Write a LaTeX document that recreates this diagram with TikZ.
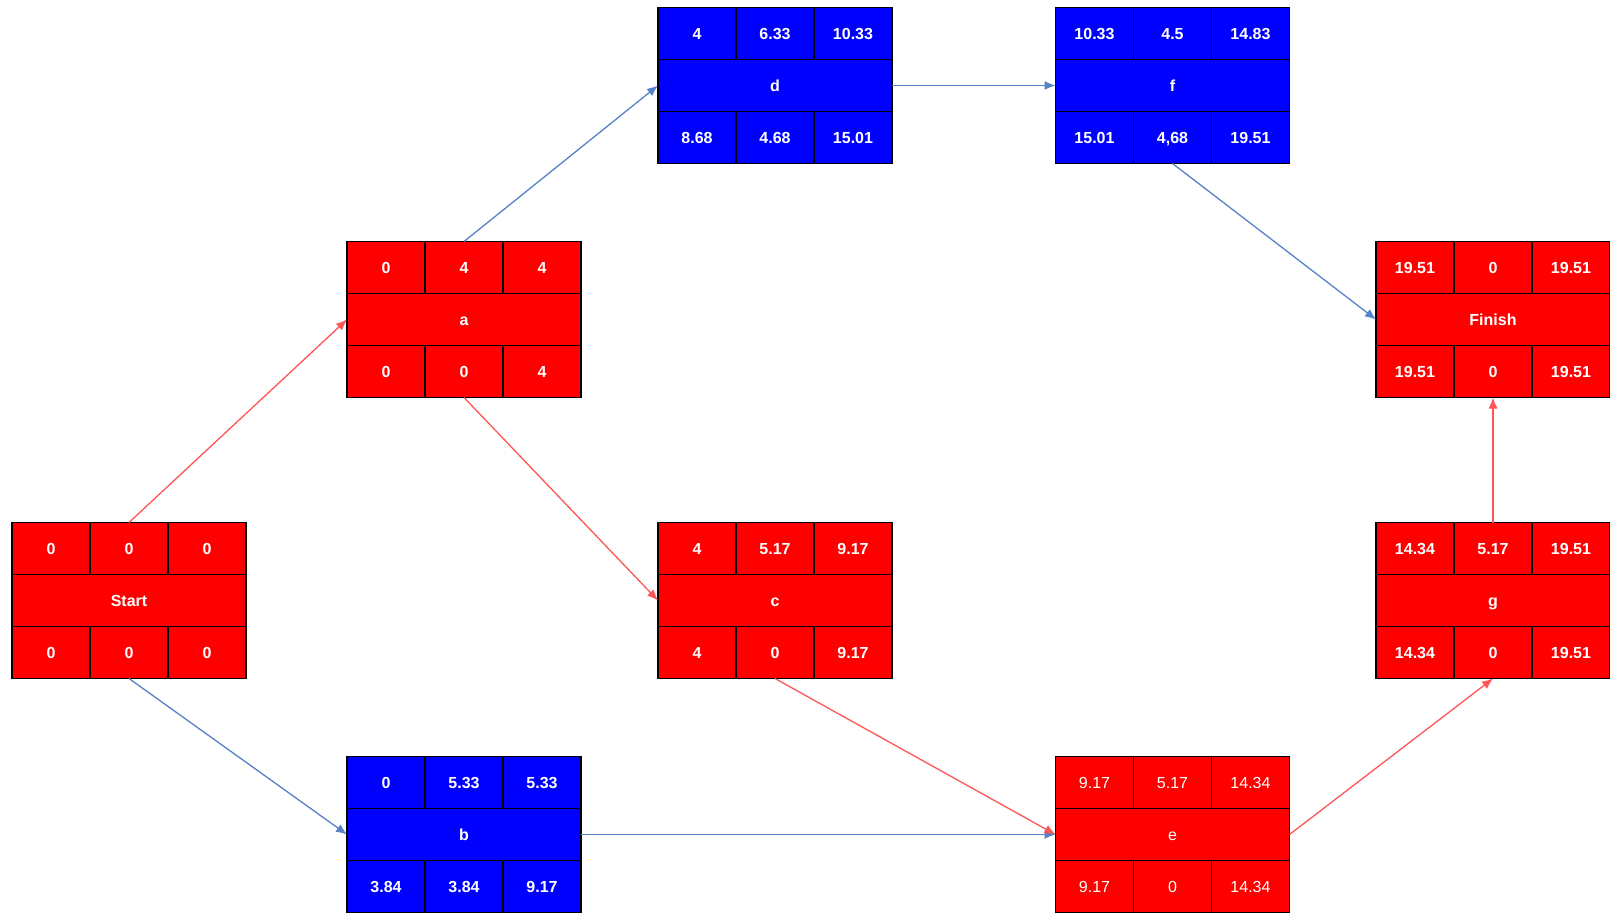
\documentclass[tikz,border=0pt]{standalone}
\usepackage{fontspec}
\setmainfont{Liberation Sans}
\usetikzlibrary{positioning,arrows.meta}

\definecolor{critred}{RGB}{255,0,0}
\definecolor{slackblue}{RGB}{0,0,255}
\definecolor{critline}{RGB}{255,85,85}
\definecolor{slackline}{RGB}{85,130,200}

\tikzset{
  cell/.style={draw=black,line width=1.2pt,minimum width=78pt,minimum height=52pt,
    inner sep=0pt,outer sep=0pt,text=white,text height=11.5pt,text depth=0pt,
    font=\fontsize{16}{18}\selectfont\bfseries},
  midrow/.style={cell,minimum width=234pt},
  thin text/.style={font=\fontsize{16}{18}\selectfont},
  crit/.style={draw=critline,line width=1.3pt,-{Latex[length=11pt,width=9pt]}},
  slack/.style={draw=slackline,line width=1.3pt,-{Latex[length=11pt,width=9pt]}}
}

% #1 name, #2 fill, #3-#5 top row, #6-#8 bottom row
\newcommand{\cells}[8]{%
  \node[cell,fill=#2,above=0pt of #1] (#1-t2) {#4};
  \node[cell,fill=#2,left=0pt of #1-t2] (#1-t1) {#3};
  \node[cell,fill=#2,right=0pt of #1-t2] (#1-t3) {#5};
  \node[cell,fill=#2,below=0pt of #1] (#1-b2) {#7};
  \node[cell,fill=#2,left=0pt of #1-b2] (#1-b1) {#6};
  \node[cell,fill=#2,right=0pt of #1-b2] (#1-b3) {#8};
}

\begin{document}
\begin{tikzpicture}[x=1pt,y=-1pt]
  \useasboundingbox[fill=white] (0,0) rectangle (1610,913);

  % activities (middle rows)
  \node[midrow,fill=critred] (start) at (129,600.5) {Start};
  \node[midrow,fill=critred] (a) at (464,319.5) {a};
  \node[midrow,fill=slackblue] (b) at (464,834.5) {b};
  \node[midrow,fill=critred] (c) at (775,600.5) {c};
  \node[midrow,fill=slackblue] (d) at (775,85.5) {d};
  \node[midrow,fill=critred,thin text] (e) at (1172.5,834.5) {e};
  \node[midrow,fill=slackblue] (f) at (1172.5,85.5) {f};
  \node[midrow,fill=critred] (g) at (1493,600.5) {g};
  \node[midrow,fill=critred] (finish) at (1493,319.5) {Finish};

  \cells{start}{critred}{0}{0}{0}{0}{0}{0}
  \cells{a}{critred}{0}{4}{4}{0}{0}{4}
  \cells{b}{slackblue}{0}{5.33}{5.33}{3.84}{3.84}{9.17}
  \cells{c}{critred}{4}{5.17}{9.17}{4}{0}{9.17}
  \cells{d}{slackblue}{4}{6.33}{10.33}{8.68}{4.68}{15.01}
  \tikzset{cell/.append style={thin text}}
  \cells{e}{critred}{9.17}{5.17}{14.34}{9.17}{0}{14.34}
  \tikzset{cell/.append style={font=\fontsize{16}{18}\selectfont\bfseries}}
  \cells{f}{slackblue}{10.33}{4.5}{14.83}{15.01}{4,68}{19.51}
  \cells{g}{critred}{14.34}{5.17}{19.51}{14.34}{0}{19.51}
  \cells{finish}{critred}{19.51}{0}{19.51}{19.51}{0}{19.51}

  % dependencies
  \draw[crit] (start-t2.north) -- (a.west);
  \draw[slack] (start-b2.south) -- (b.west);
  \draw[slack] (a-t2.north) -- (d.west);
  \draw[crit] (a-b2.south) -- (c.west);
  \draw[slack] (d.east) -- (f.west);
  \draw[slack] (b.east) -- (e.west);
  \draw[crit] (c-b2.south) -- (e.west);
  \draw[slack] (f-b2.south) -- (finish.west);
  \draw[crit] (e.east) -- (g-b2.south);
  \draw[crit] (g-t2.north) -- (finish-b2.south);
\end{tikzpicture}
\end{document}
